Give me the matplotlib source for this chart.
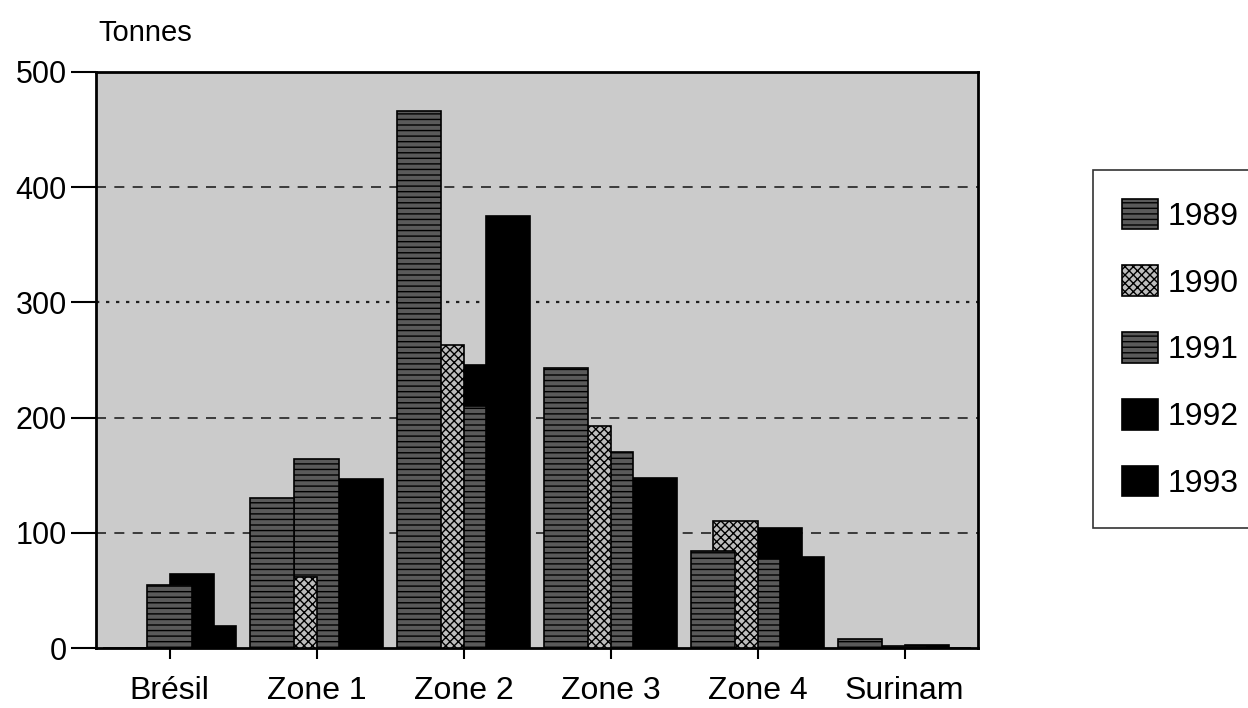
import numpy as np
import matplotlib.pyplot as plt

plt.rcParams['font.family'] = ['Liberation Sans', 'DejaVu Sans']

# data (tonnes)
zones = ["Brésil", "Zone 1", "Zone 2", "Zone 3", "Zone 4", "Surinam"]
years = ["1989", "1990", "1991", "1992", "1993"]
v1989 = [0, 130, 466, 243, 84, 8]
v1990 = [0, 62, 263, 193, 110, 0]
v1991 = [55, 164, 210, 170, 77, 2]
v1992 = [64, 143, 246, 145, 104, 3]
v1993 = [19, 147, 375, 148, 79, 0]
series = [v1989, v1990, v1991, v1992, v1993]

# styles for each year
faces = ["#5a5a5a", "#bdbdbd", "#5a5a5a", "#000000", "#000000"]
hatches = ["---", "xxxx", "---", None, None]

fig = plt.figure(figsize=(12.48, 7.08), dpi=100)
ax = fig.add_axes([96/1248, 1-648/708, 882/1248, 576/708])
ax.set_facecolor("#cbcbcb")

x = np.arange(len(zones))
w = 0.3
step = 0.15
plt.rcParams['hatch.color'] = '#9a9a9a'
# earlier years are drawn in front
for i, vals in enumerate(series):
    ax.bar(x + (i - 2) * step, vals, width=w, color=faces[i], hatch=hatches[i],
           edgecolor="black", linewidth=1.2, zorder=10 - i, label=years[i])

# gridlines, 300 drawn dotted like in the scan
for g in [100, 200, 400]:
    ax.axhline(g, color="#222222", lw=1.2, ls=(0, (6, 5)), zorder=1)
ax.axhline(300, color="#222222", lw=1.6, ls=(0, (1.5, 3)), zorder=1)

ax.set_xlim(-0.5, len(zones) - 0.5)
ax.set_ylim(0, 500)
ax.set_yticks([0, 100, 200, 300, 400, 500])
ax.set_xticks(x)
ax.set_xticklabels(zones)
ax.tick_params(axis="y", length=18, width=1.5, pad=3, labelsize=22, direction="out")
ax.tick_params(axis="x", length=8, width=1.5, pad=12, labelsize=23, direction="out")
for s in ax.spines.values():
    s.set_linewidth(2)
    s.set_color("black")

fig.text(98/1248, 1-33/708, "Tonnes", fontsize=21, va="center", ha="left")

leg = fig.legend(loc="upper left", bbox_to_anchor=(1093/1248, 1-170/708),
                 fontsize=23, frameon=True, fancybox=False, edgecolor="black",
                 handlelength=1.15, handleheight=1.1, labelspacing=1.05,
                 handletextpad=0.3, borderpad=0.9, borderaxespad=0)
leg.get_frame().set_linewidth(1.2)

plt.savefig("out.png", dpi=100)
